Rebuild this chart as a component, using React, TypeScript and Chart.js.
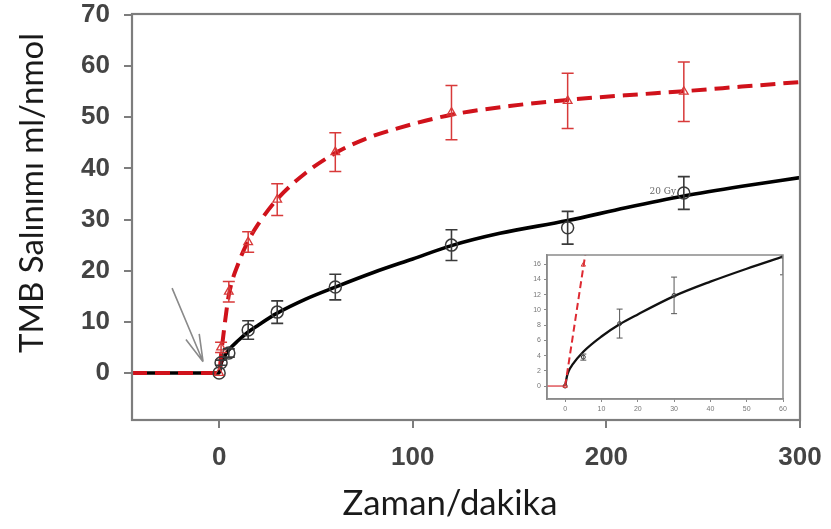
import React, { useEffect, useRef } from "react";
import { Chart, registerables } from "chart.js";
Chart.register(...registerables);

// ---------- main chart data ----------
const xTicks = [0, 100, 200, 300];
const yTicks = [0, 10, 20, 30, 40, 50, 60, 70];

const timeRed = [0, 1, 5, 15, 30, 60, 120, 180, 240];
const releaseRed = [0, 5, 15.9, 25.6, 33.9, 43.2, 50.9, 53.2, 55.0];
const errRed = [0, 1, 2, 2, 3.1, 3.8, 5.3, 5.4, 5.8];

const timeBlack = [0, 1, 5, 15, 30, 60, 120, 180, 240];
const releaseBlack = [0, 2, 3.9, 8.4, 11.9, 16.8, 25.0, 28.4, 35.2];
const errBlack = [0, 0.5, 0.8, 1.8, 2.2, 2.5, 3.0, 3.2, 3.2];

const fitRedX = [-45, 0, 1, 2, 5, 10, 15, 20, 30, 45, 60, 75, 90, 120, 150, 180, 210, 240, 270, 300];
const fitRedY = [0, 0, 3.5, 6.8, 15.2, 21.5, 25.8, 29, 34, 39.2, 43, 45.7, 47.6, 50.5, 52.2, 53.4, 54.3, 55.1, 56.0, 56.9];
const fitBlackX = [-45, 0, 1, 2, 5, 10, 15, 20, 30, 45, 60, 80, 100, 120, 145, 180, 210, 240, 270, 300];
const fitBlackY = [0, 0, 1.8, 2.7, 4.5, 6.4, 8.0, 9.3, 11.7, 14.5, 16.8, 19.7, 22.3, 24.9, 27.3, 29.8, 32.3, 34.6, 36.5, 38.2];

const arrowFrom = [-24.3, 16.6];
const arrowTo = [-8.3, 2.2];
const noteText = "20 Gy";
const notePos = [236, 35.4];

const xTitle = "Zaman/dakika";
const yTitle = "TMB Salınımı ml/nmol";

// ---------- inset data ----------
const insetXTicks = [0, 10, 20, 30, 40, 50, 60];
const insetYTicks = [0, 2, 4, 6, 8, 10, 12, 14, 16];
const insetFitBlackX = [0, 0.5, 1, 2, 5, 10, 15, 20, 30, 40, 50, 60];
const insetFitBlackY = [0, 1.3, 2.0, 2.8, 4.5, 6.5, 8.1, 9.4, 11.8, 13.7, 15.4, 17.0];
const insetFitRedX = [0, 2, 5, 6];
const insetFitRedY = [0, 6.2, 15.6, 18.6];
const insetBaseX = [-5, 0];
const insetBaseY = [0, 0];
const insetBlackX = [0, 5, 15, 30, 60];
const insetBlackY = [0, 3.8, 8.2, 11.9, 17.0];
const insetBlackErr = [0, 0.4, 1.9, 2.4, 2.4];
const insetRedX = [0, 5];
const insetRedY = [0, 15.9];

const pts = (xs: number[], ys: number[]) => xs.map((x, i) => ({ x, y: ys[i] }));

const noPad = (s: any) => {
  s.paddingTop = 0;
  s.paddingBottom = 0;
  s.paddingLeft = 0;
  s.paddingRight = 0;
};

const framePlugin = {
  id: "frame",
  afterDraw(chart: any) {
    const o = chart.options.plugins.frame;
    const { ctx, chartArea: a } = chart;
    ctx.save();
    ctx.strokeStyle = o.color;
    ctx.lineWidth = o.width;
    ctx.strokeRect(a.left, a.top, a.right - a.left, a.bottom - a.top);
    ctx.restore();
  },
};

const errorBarPlugin = {
  id: "errorBars",
  afterDatasetsDraw(chart: any) {
    const { ctx, chartArea: a } = chart;
    const xs = chart.scales.x, ys = chart.scales.y;
    ctx.save();
    ctx.beginPath();
    ctx.rect(a.left, a.top, a.right - a.left, a.bottom - a.top);
    ctx.clip();
    chart.data.datasets.forEach((ds: any) => {
      if (!ds.errorBars) return;
      ctx.strokeStyle = ds.errorColor;
      ctx.lineWidth = ds.errorWidth;
      ds.data.forEach((p: any, i: number) => {
        const e = ds.errorBars[i];
        if (!e) return;
        const px = xs.getPixelForValue(p.x);
        const t = ys.getPixelForValue(p.y + e);
        const b = ys.getPixelForValue(p.y - e);
        const c = ds.errorCap;
        ctx.beginPath();
        ctx.moveTo(px, t); ctx.lineTo(px, b);
        ctx.moveTo(px - c, t); ctx.lineTo(px + c, t);
        ctx.moveTo(px - c, b); ctx.lineTo(px + c, b);
        ctx.stroke();
      });
    });
    ctx.restore();
  },
};

const fitFont = (ctx: any, text: string, family: string, target: number) => {
  ctx.font = `40px ${family}`;
  const w = ctx.measureText(text).width;
  return 40 * target / w;
};

const decorPlugin = {
  id: "decor",
  afterDraw(chart: any) {
    const { ctx } = chart;
    const xs = chart.scales.x, ys = chart.scales.y;
    ctx.save();
    // arrow
    const x0 = xs.getPixelForValue(arrowFrom[0]), y0 = ys.getPixelForValue(arrowFrom[1]);
    const x1 = xs.getPixelForValue(arrowTo[0]), y1 = ys.getPixelForValue(arrowTo[1]);
    ctx.strokeStyle = "#8a8a8a";
    ctx.lineWidth = 1.6;
    ctx.beginPath();
    ctx.moveTo(x0, y0); ctx.lineTo(x1, y1);
    const ang = Math.atan2(y0 - y1, x0 - x1);
    const L = 28, s = 0.26;
    ctx.moveTo(x1, y1); ctx.lineTo(x1 + L * Math.cos(ang - s), y1 + L * Math.sin(ang - s));
    ctx.moveTo(x1, y1); ctx.lineTo(x1 + L * Math.cos(ang + s), y1 + L * Math.sin(ang + s));
    ctx.stroke();
    // note
    ctx.fillStyle = "#666";
    ctx.font = "9px 'DejaVu Serif', serif";
    ctx.textAlign = "right";
    ctx.textBaseline = "middle";
    ctx.fillText(noteText, xs.getPixelForValue(notePos[0]), ys.getPixelForValue(notePos[1]));
    // titles
    const fam = "Lato, 'Open Sans', sans-serif";
    ctx.fillStyle = "#1a1a1a";
    ctx.textBaseline = "alphabetic";
    ctx.textAlign = "center";
    const fx = fitFont(ctx, xTitle, fam, 215);
    ctx.font = `${fx}px ${fam}`;
    ctx.fillText(xTitle, 450, 515);
    const fy = fitFont(ctx, yTitle, fam, 320);
    ctx.font = `${fy}px ${fam}`;
    ctx.translate(43, 193);
    ctx.rotate(-Math.PI / 2);
    ctx.fillText(yTitle, 0, 0);
    ctx.restore();
  },
};

const tickFont = { family: "'Liberation Sans', Arial, sans-serif", size: 26, weight: "bold" as const };

function MainChart() {
  const ref = useRef<HTMLCanvasElement>(null);
  useEffect(() => {
    const chart = new Chart(ref.current as HTMLCanvasElement, {
      type: "scatter",
      data: {
        datasets: [
          {
            data: pts(fitBlackX, fitBlackY),
            showLine: true,
            borderColor: "#000",
            borderWidth: 3.6,
            pointRadius: 0,
            cubicInterpolationMode: "monotone",
            order: 4,
          } as any,
          {
            data: pts(fitRedX, fitRedY),
            showLine: true,
            borderColor: "#d0121b",
            borderWidth: 4,
            borderDash: [15, 8],
            pointRadius: 0,
            cubicInterpolationMode: "monotone",
            order: 3,
          },
          {
            data: pts(timeBlack, releaseBlack),
            showLine: false,
            pointStyle: "circle",
            pointRadius: 6,
            borderColor: "#3a3a3a",
            borderWidth: 1.5,
            backgroundColor: "rgba(0,0,0,0)",
            errorBars: errBlack,
            errorColor: "#3a3a3a",
            errorWidth: 1.6,
            errorCap: 6,
            order: 2,
          },
          {
            data: pts(timeRed, releaseRed),
            showLine: false,
            pointStyle: "triangle",
            pointRadius: 5,
            borderColor: "#d83a3a",
            borderWidth: 1.3,
            backgroundColor: "rgba(0,0,0,0)",
            errorBars: errRed,
            errorColor: "#d83a3a",
            errorWidth: 1.5,
            errorCap: 6,
            order: 1,
          },
        ] as any,
      },
      options: {
        responsive: false,
        animation: false,
        layout: { padding: { left: 0, top: 14, right: 31, bottom: 49 } },
        plugins: {
          legend: { display: false },
          tooltip: { enabled: false },
          frame: { color: "#7d7d7d", width: 2.2 },
        } as any,
        scales: {
          x: {
            type: "linear",
            min: -45,
            max: 300,
            afterBuildTicks: (s: any) => { s.ticks = xTicks.map((v) => ({ value: v })); },
            afterFit: (s: any) => { s.height = 60; noPad(s); },
            grid: { drawOnChartArea: false, drawTicks: true, tickLength: 8, color: "#7d7d7d", lineWidth: 2 },
            border: { display: true, color: "#7d7d7d", width: 2 },
            ticks: { color: "#444", padding: 14, font: tickFont, maxRotation: 0 },
          },
          y: {
            type: "linear",
            min: -9.2,
            max: 70.2,
            afterBuildTicks: (s: any) => { s.ticks = yTicks.map((v) => ({ value: v })); },
            afterFit: (s: any) => { s.width = 132; noPad(s); },
            grid: { drawOnChartArea: false, drawTicks: true, tickLength: 8, color: "#7d7d7d", lineWidth: 2 },
            border: { display: true, color: "#7d7d7d", width: 2 },
            ticks: { color: "#444", padding: 14, font: tickFont },
          },
        },
      },
      plugins: [framePlugin, errorBarPlugin, decorPlugin],
    });
    return () => chart.destroy();
  }, []);
  return (
    <canvas ref={ref} width={831} height={529}
      style={{ position: "absolute", left: 0, top: 0, width: 831, height: 529 }} />
  );
}

function InsetChart() {
  const ref = useRef<HTMLCanvasElement>(null);
  useEffect(() => {
    const chart = new Chart(ref.current as HTMLCanvasElement, {
      type: "scatter",
      data: {
        datasets: [
          {
            data: pts(insetFitBlackX, insetFitBlackY),
            showLine: true,
            borderColor: "#111",
            borderWidth: 2.3,
            pointRadius: 0,
            cubicInterpolationMode: "monotone",
            order: 4,
          } as any,
          {
            data: pts(insetFitRedX, insetFitRedY),
            showLine: true,
            borderColor: "#de2a32",
            borderWidth: 2,
            borderDash: [7, 4],
            pointRadius: 0,
            order: 3,
          },
          {
            data: pts(insetBaseX, insetBaseY),
            showLine: true,
            borderColor: "#e0575c",
            borderWidth: 1.5,
            pointRadius: 0,
            order: 5,
          },
          {
            data: pts(insetBlackX, insetBlackY),
            showLine: false,
            pointStyle: "circle",
            pointRadius: 2,
            borderColor: "#333",
            borderWidth: 1,
            backgroundColor: "rgba(0,0,0,0)",
            errorBars: insetBlackErr,
            errorColor: "#555",
            errorWidth: 1,
            errorCap: 3,
            order: 2,
          },
          {
            data: pts(insetRedX, insetRedY),
            showLine: false,
            pointStyle: "triangle",
            pointRadius: 2.5,
            borderColor: "#d83a3a",
            borderWidth: 1,
            backgroundColor: "rgba(0,0,0,0)",
            order: 1,
          },
        ] as any,
      },
      options: {
        responsive: false,
        animation: false,
        layout: { padding: { left: 0, top: 10, right: 12, bottom: 0 } },
        plugins: {
          legend: { display: false },
          tooltip: { enabled: false },
          frame: { color: "#8a8a8a", width: 1.5 },
        } as any,
        scales: {
          x: {
            type: "linear",
            min: -5,
            max: 60,
            afterBuildTicks: (s: any) => { s.ticks = insetXTicks.map((v) => ({ value: v })); },
            afterFit: (s: any) => { s.height = 21; noPad(s); },
            grid: { drawOnChartArea: false, drawTicks: true, tickLength: 3, color: "#8a8a8a", lineWidth: 1 },
            border: { display: true, color: "#8a8a8a", width: 1.5 },
            ticks: { color: "#777", padding: 3, font: { family: "'Liberation Sans', Arial, sans-serif", size: 7 }, maxRotation: 0 },
          },
          y: {
            type: "linear",
            min: -1.7,
            max: 17.2,
            afterBuildTicks: (s: any) => { s.ticks = insetYTicks.map((v) => ({ value: v })); },
            afterFit: (s: any) => { s.width = 42; noPad(s); },
            grid: { drawOnChartArea: false, drawTicks: true, tickLength: 3, color: "#8a8a8a", lineWidth: 1 },
            border: { display: true, color: "#8a8a8a", width: 1.5 },
            ticks: { color: "#777", padding: 3, font: { family: "'Liberation Sans', Arial, sans-serif", size: 7 } },
          },
        },
      },
      plugins: [framePlugin, errorBarPlugin],
    });
    return () => chart.destroy();
  }, []);
  return (
    <canvas ref={ref} width={290} height={175}
      style={{ position: "absolute", left: 505, top: 245, width: 290, height: 175 }} />
  );
}

export default function App() {
  return (
    <div style={{ position: "absolute", left: 0, top: 0, width: 831, height: 529, background: "#fff", overflow: "hidden" }}>
      <MainChart />
      <InsetChart />
    </div>
  );
}
